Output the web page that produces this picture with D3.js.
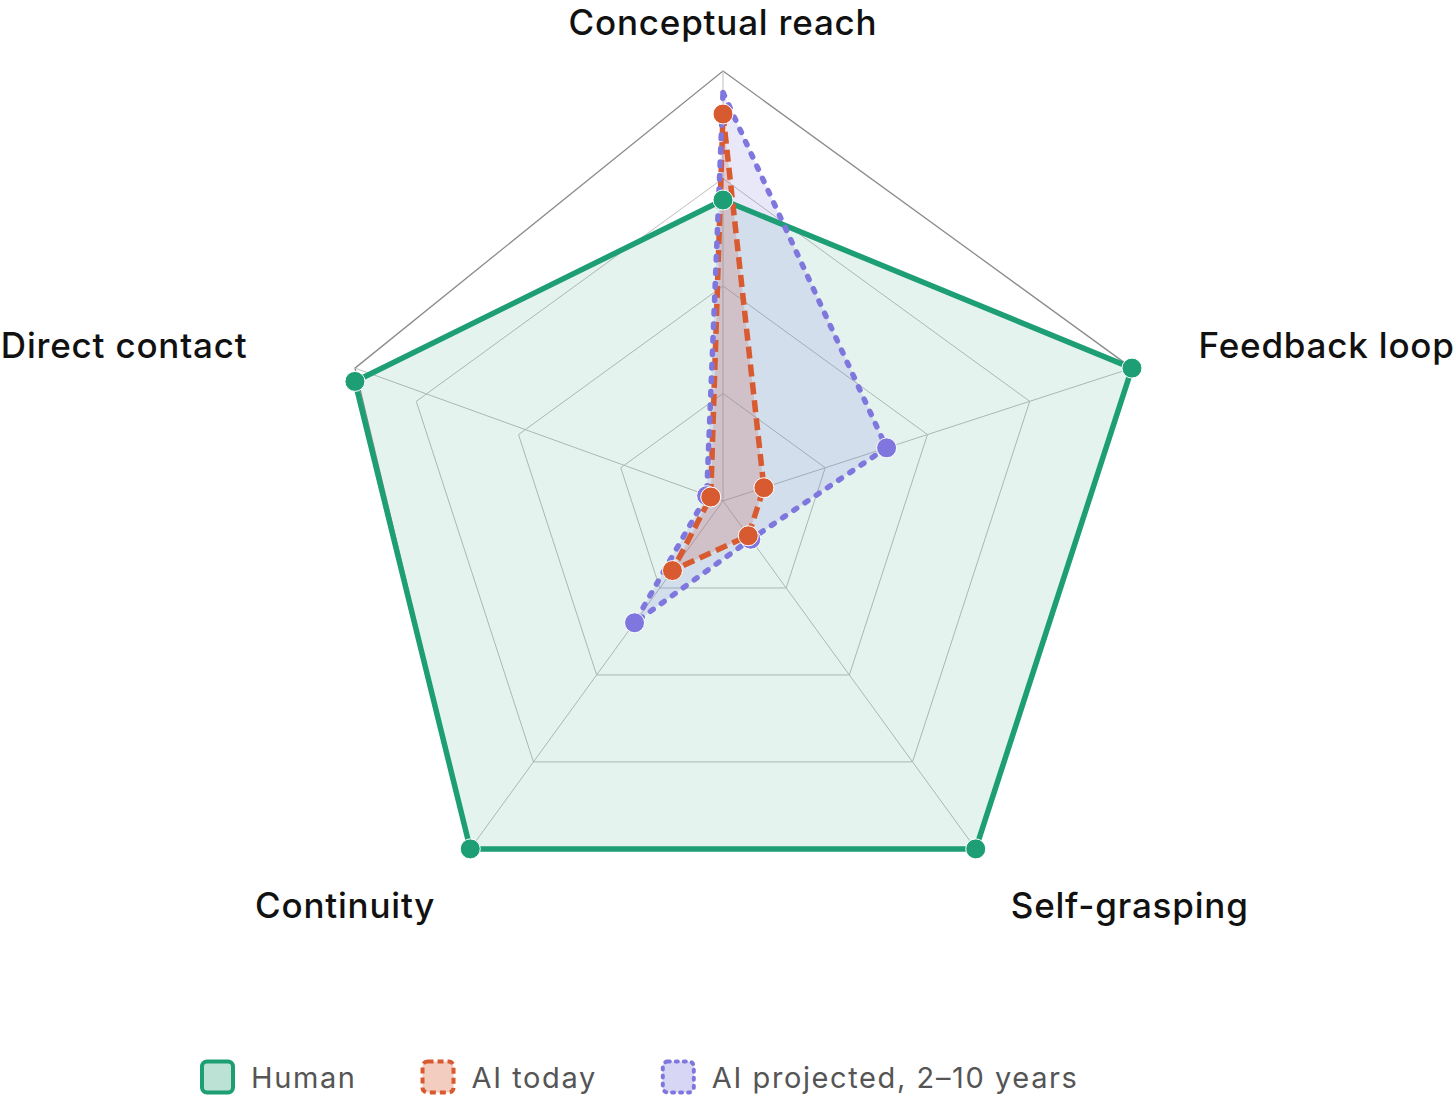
<!DOCTYPE html>
<html>
<head>
<meta charset="utf-8">
<script src="https://cdn.jsdelivr.net/npm/d3@7"></script>
<style>
	html, body { margin: 0; padding: 0; background: #fff; }
	#chart { width: 1456px; height: 1095px; }
	text { font-family: Inter, "Noto Sans", sans-serif; }
</style>
</head>
<body>
<div id="chart"></div>
<script>
//axis names, clockwise from the top
var axisNames = ["Conceptual reach", "Feedback loop", "Self-grasping", "Continuity", "Direct contact"];

//series values on a 0-10 scale, same order as axisNames
var humanValues = [7, 10, 10, 10, 9],
	aiTodayValues = [9, 1, 1, 2, 0.3],
	aiProjectedValues = [9.5, 4, 1.1, 3.5, 0.4];

var seriesNames = ["Human", "AI today", "AI projected, 2\u201310 years"];

//grid ring levels
var ringLevels = [2.5, 5, 7.5, 10];

//chart frame dimensions
var width = 1456,
	height = 1095,
	cx = 723,
	cy = 501,
	radius = 430,
	labelOffset = 70,
	gridLeftLimit = 355;

var colors = ["#1D9E75", "#D85A30", "#7F77DD"],
	fillOpacity = [0.12, 0.22, 0.17],
	dashes = [null, "12 6", "3.5 10"],
	caps = ["round", "butt", "round"];

//the projected marker at the top spike is not drawn in the original
var projectedMarkerShown = [false, true, true, true, true];

//scale for the radial distance
var rScale = d3.scaleLinear()
	.domain([0, 10])
	.range([0, radius]);

//angle of each axis
var angle = d3.scalePoint()
	.domain(axisNames)
	.range([0, 2 * Math.PI * (axisNames.length - 1) / axisNames.length]);

function point(name, value) {
	var a = angle(name), r = rScale(value);
	return [cx + r * Math.sin(a), cy - r * Math.cos(a)];
}

function initialize() {
	var svg = d3.select("#chart")
		.append("svg")
			.attr("width", width)
			.attr("height", height);

	drawGrid(svg);
	drawSeries(svg);
	drawLabels(svg);
	drawLegend(svg);
}

//rings and spokes
function drawGrid(svg) {
	var grid = svg.append("g").attr("class", "grid");

	ringLevels.forEach(function(level) {
		var pts = axisNames.map(function(name) {
			var p = point(name, level);
			if (level === 10) p[0] = Math.max(p[0], gridLeftLimit); //outer ring is pulled in on the left
			return p;
		});
		grid.append("polygon")
			.attr("points", pts.join(" "))
			.attr("fill", "none")
			.attr("stroke", level === 10 ? "#8c8c8c" : "#bdbdbd")
			.attr("stroke-width", level === 10 ? 1.3 : 1);
	});

	grid.selectAll("line")
		.data(axisNames)
		.enter()
		.append("line")
			.attr("x1", cx)
			.attr("y1", cy)
			.attr("x2", function(d) { return Math.max(point(d, 10)[0], gridLeftLimit); })
			.attr("y2", function(d) { return point(d, 10)[1]; })
			.attr("stroke", "#bdbdbd")
			.attr("stroke-width", 1);
}

function drawSeries(svg) {
	var allValues = [humanValues, aiTodayValues, aiProjectedValues];
	var series = allValues.map(function(vals, i) {
		return axisNames.map(function(name, j) { return point(name, vals[j]); });
	});

	var line = d3.line().curve(d3.curveLinearClosed);

	//areas
	svg.append("g").selectAll("path")
		.data(series)
		.enter()
		.append("path")
			.attr("d", line)
			.attr("fill", function(d, i) { return colors[i]; })
			.attr("fill-opacity", function(d, i) { return fillOpacity[i]; })
			.attr("stroke", "none");

	//outlines
	svg.append("g").selectAll("path")
		.data(series)
		.enter()
		.append("path")
			.attr("d", line)
			.attr("fill", "none")
			.attr("stroke", function(d, i) { return colors[i]; })
			.attr("stroke-width", 5.5)
			.attr("stroke-linejoin", "round")
			.attr("stroke-linecap", function(d, i) { return caps[i]; })
			.attr("stroke-dasharray", function(d, i) { return dashes[i]; });

	//points, projected first so human ends on top
	[2, 1, 0].forEach(function(i) {
		var pts = series[i].filter(function(d, j) { return i !== 2 || projectedMarkerShown[j]; });
		svg.append("g").selectAll("circle")
			.data(pts)
			.enter()
			.append("circle")
				.attr("cx", function(d) { return d[0]; })
				.attr("cy", function(d) { return d[1]; })
				.attr("r", 10)
				.attr("fill", colors[i])
				.attr("stroke", "#fff")
				.attr("stroke-width", 1);
	});
}

//axis labels outside the outer ring
function drawLabels(svg) {
	svg.append("g").selectAll("text")
		.data(axisNames)
		.enter()
		.append("text")
			.attr("x", function(d) {
				var a = angle(d);
				return point(d, 10)[0] + labelOffset * Math.sin(a) * (Math.cos(a) < 0 ? 0.85 : 1);
			})
			.attr("y", function(d) {
				return Math.max(35, point(d, 10)[1] - labelOffset * Math.cos(angle(d)) + 12);
			})
			.attr("text-anchor", function(d) {
				var s = Math.sin(angle(d));
				return Math.abs(s) < 0.1 ? "middle" : (s > 0 ? "start" : "end");
			})
			.attr("font-size", 35)
			.attr("font-weight", 500)
			.attr("letter-spacing", 0.8)
			.attr("fill", "#111")
			.text(function(d) { return d; });
}

function drawLegend(svg) {
	var legend = svg.append("g").attr("class", "legend"),
		x = 200,
		boxSize = 35,
		y = 1077;

	seriesNames.forEach(function(name, i) {
		legend.append("rect")
			.attr("x", x + 2)
			.attr("y", y - boxSize / 2 + 2)
			.attr("width", boxSize - 4)
			.attr("height", boxSize - 4)
			.attr("rx", 5)
			.attr("fill", colors[i])
			.attr("fill-opacity", 0.3)
			.attr("stroke", colors[i])
			.attr("stroke-width", 4)
			.attr("stroke-linecap", caps[i])
			.attr("stroke-dasharray", i === 0 ? null : (i === 1 ? "6 4" : "2 6"));

		var label = legend.append("text")
			.attr("x", x + boxSize + 16)
			.attr("y", y)
			.attr("dominant-baseline", "central")
			.attr("font-size", 29)
			.attr("letter-spacing", 1.6)
			.attr("fill", "#555")
			.text(name);

		x += boxSize + 16 + label.node().getComputedTextLength() + 64;
	});
}

document.addEventListener('DOMContentLoaded', initialize)
</script>
</body>
</html>
